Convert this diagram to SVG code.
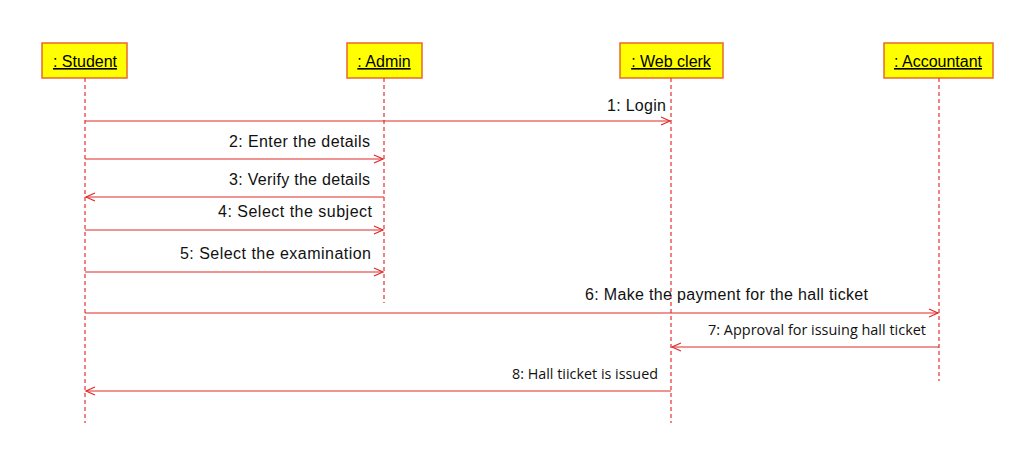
<svg xmlns="http://www.w3.org/2000/svg" width="1012" height="456" viewBox="0 0 1012 456">
<style>
.box{fill:#ffff00;stroke:#e8682c;stroke-width:1.5}
.life{stroke:#e43030;stroke-width:1.2;stroke-dasharray:4,3;fill:none}
.msg{stroke:#e02828;stroke-width:1.2;fill:none}
.name{font-family:"Liberation Sans",Arial,sans-serif;font-size:16px;fill:#000;text-anchor:middle;text-decoration:underline}
.lbl{font-family:"Liberation Sans",Arial,sans-serif;font-size:16px;fill:#111;text-anchor:end}
.lbl2{font-family:"Open Sans","Liberation Sans",sans-serif;font-size:15px;fill:#111;text-anchor:end}
</style>
<defs>
<marker id="arr" markerWidth="12" markerHeight="12" refX="10" refY="5" orient="auto" markerUnits="userSpaceOnUse">
<path d="M1,1 L10,5 L1,9" fill="none" stroke="#e02828" stroke-width="1.2"/>
</marker>
</defs>
<rect width="1012" height="456" fill="#fff"/>
<g id="student">
<rect class="box" x="42" y="43" width="85" height="35"/>
<text class="name" x="85" y="67"> : Student</text>
<line class="life" x1="85" y1="78" x2="85" y2="423"/>
</g>
<g id="admin">
<rect class="box" x="347" y="43" width="75" height="35"/>
<text class="name" x="384" y="67"> : Admin</text>
<line class="life" x1="384" y1="78" x2="384" y2="303"/>
</g>
<g id="webclerk">
<rect class="box" x="620" y="43" width="103" height="35"/>
<text class="name" x="671" y="67"> : Web clerk</text>
<line class="life" x1="671" y1="78" x2="671" y2="423"/>
</g>
<g id="accountant">
<rect class="box" x="884" y="43" width="109" height="35"/>
<text class="name" x="938" y="67"> : Accountant</text>
<line class="life" x1="939" y1="78" x2="939" y2="381"/>
</g>
<g id="connectors">
<line class="msg" x1="85" y1="121" x2="670" y2="121" marker-end="url(#arr)"/>
<text class="lbl" x="666" y="111" textLength="59">1: Login</text>
<line class="msg" x1="85" y1="159" x2="383" y2="159" marker-end="url(#arr)"/>
<text class="lbl" x="370" y="147" textLength="141">2: Enter the details</text>
<line class="msg" x1="384" y1="197" x2="86" y2="197" marker-end="url(#arr)"/>
<text class="lbl" x="370" y="185" textLength="141">3: Verify the details</text>
<line class="msg" x1="85" y1="230" x2="383" y2="230" marker-end="url(#arr)"/>
<text class="lbl" x="372" y="217" textLength="154">4: Select the subject</text>
<line class="msg" x1="85" y1="272" x2="383" y2="272" marker-end="url(#arr)"/>
<text class="lbl" x="371" y="259" textLength="191">5: Select the examination</text>
<line class="msg" x1="85" y1="313" x2="938" y2="313" marker-end="url(#arr)"/>
<text class="lbl" x="868" y="300" textLength="283">6: Make the payment for the hall ticket</text>
<line class="msg" x1="939" y1="347" x2="672" y2="347" marker-end="url(#arr)"/>
<text class="lbl2" x="926" y="335" textLength="218" lengthAdjust="spacingAndGlyphs">7: Approval for issuing hall ticket</text>
<line class="msg" x1="671" y1="391" x2="86" y2="391" marker-end="url(#arr)"/>
<text class="lbl2" x="658" y="379" textLength="146" lengthAdjust="spacingAndGlyphs">8: Hall tiicket is issued</text>
</g>
</svg>
